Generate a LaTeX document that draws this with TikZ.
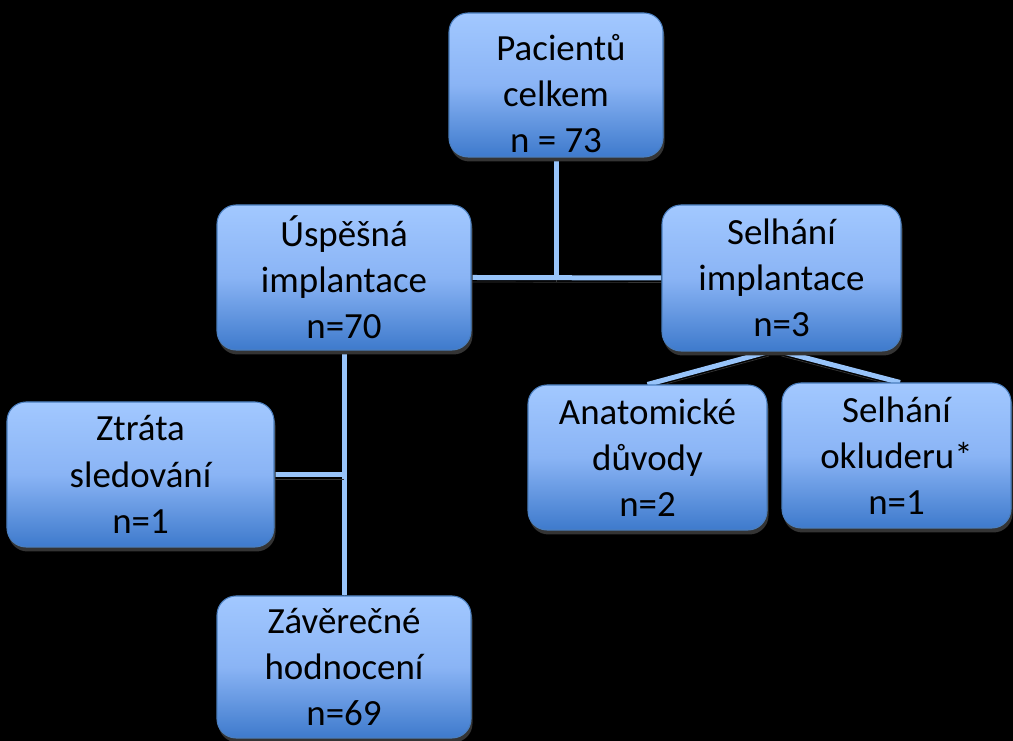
\documentclass[tikz,border=0pt]{standalone}
\usepackage{fontspec}
\setmainfont{Carlito}
\usetikzlibrary{positioning,shadows,calc,backgrounds}

\definecolor{boxtop}{RGB}{162,200,255}
\definecolor{boxmid}{RGB}{138,180,245}
\definecolor{boxbot}{RGB}{62,122,204}
\definecolor{boxedge}{RGB}{74,126,190}
\definecolor{linkblue}{RGB}{152,196,250}
\definecolor{shadowgray}{RGB}{52,52,52}

\begin{document}
\begin{tikzpicture}[
	box/.style={draw=boxedge,line width=0.6pt,rounded corners=0.38cm,
		top color=boxtop,bottom color=boxbot,middle color=boxmid,
		align=center,inner sep=2pt,
		font=\fontsize{21}{26.3}\selectfont,
		drop shadow={shadow xshift=0.03cm,shadow yshift=-0.09cm,fill=shadowgray,opacity=1}},
	link/.style={draw=linkblue,line width=0.1cm,
		preaction={draw=shadowgray,transform canvas={yshift=-0.09cm}}}]

	% frame
	\useasboundingbox (0,0) rectangle (20.26,14.82);

	% The boxes
	\node[box,minimum width=4.28cm,minimum height=2.88cm,text height=2.72cm] (tot) at (11.12,13.12) {\hspace{0.2cm}Pacientů\\celkem\\n = 73};
	\node[box,minimum width=5.08cm,minimum height=2.90cm] (ok)   at (6.88,9.27)   {Úspěšná\\implantace\\n=70};
	\node[box,minimum width=4.78cm,minimum height=2.92cm] (fail) at (15.63,9.26)  {Selhání\\implantace\\n=3};
	\node[box,minimum width=4.78cm,minimum height=2.90cm] (anat) at (12.95,5.67)  {Anatomické\\důvody\\n=2};
	\node[box,minimum width=4.58cm,minimum height=2.90cm] (occl) at (17.93,5.71)  {Selhání\\okluderu*\\n=1};
	\node[box,minimum width=5.34cm,minimum height=2.90cm] (lost) at (2.81,5.33)   {Ztráta\\sledování\\n=1};
	\node[box,minimum width=5.08cm,minimum height=2.84cm] (fin)  at (6.88,1.48)   {Závěrečné\\hodnocení\\n=69};

	% The connectors, under the boxes
	\begin{pgfonlayer}{background}
		\fill[black] (0,0) rectangle (20.26,14.82);
		\coordinate (split) at (tot.south |- ok.east);
		\coordinate (side)  at (lost.east -| ok.south);
		\draw[link] (tot.south) -- (split);
		\draw[link] (ok.east) -- (fail.west);
		\draw[link] (ok.south) -- (fin.north);
		\draw[link] (lost.east) -- (side);
		\draw[link] ($(fail.south)+(-0.25,0)$) -- (anat.north);
		\draw[link] (fail.south) -- ($(occl.north)+(0.07,0)$);
	\end{pgfonlayer}
\end{tikzpicture}
\end{document}
